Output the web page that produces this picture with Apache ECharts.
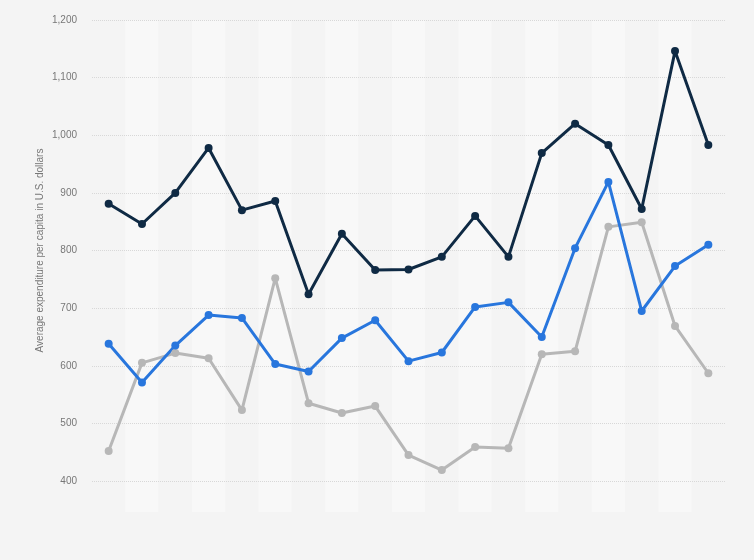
<!DOCTYPE html>
<html>
<head>
<meta charset="utf-8">
<script src="https://cdn.jsdelivr.net/npm/echarts@6/dist/echarts.min.js"></script>
<style>
  html, body { margin: 0; padding: 0; background: #f4f4f4; }
  #chart { width: 754px; height: 560px; }
</style>
</head>
<body>
<div id="chart"></div>
<script>
const categories = ['1', '2', '3', '4', '5', '6', '7', '8', '9', '10', '11', '12', '13', '14', '15', '16', '17', '18', '19'];
const darkSeries = [881, 846, 900, 978, 870, 886, 724, 829, 766, 767, 789, 860, 789, 969, 1020, 983, 872, 1146, 983];
const blueSeries = [638, 571, 635, 688, 683, 603, 590, 648, 679, 608, 623, 702, 710, 650, 804, 919, 695, 773, 810];
const graySeries = [452, 605, 622, 613, 523, 752, 535, 518, 530, 445, 419, 459, 457, 620, 625, 841, 849, 669, 587];
const yTicks = { min: 400, max: 1200, interval: 100 };

(() => {
  const chart = echarts.init(document.getElementById('chart'), null, { renderer: 'canvas' });
  const line = (name, data, color) => ({
    name,
    type: 'line',
    xAxisIndex: 1,
    yAxisIndex: 1,
    data,
    symbol: 'circle',
    symbolSize: 8,
    showSymbol: true,
    lineStyle: { width: 3, color },
    itemStyle: { color },
    z: 5,
  });
  const font = 'Liberation Sans, Arial, sans-serif';

  chart.setOption({
    animation: false,
    backgroundColor: '#f4f4f4',
    grid: [
      // background bands reach below the lowest tick
      { left: 92, right: 29, top: 20, bottom: 48 },
      { left: 92, right: 29, top: 20, bottom: 79 },
    ],
    xAxis: [
      {
        type: 'category', gridIndex: 0, data: categories, boundaryGap: true, z: 0,
        axisLine: { show: false }, axisTick: { show: false }, axisLabel: { show: false },
        splitArea: { show: true, areaStyle: { color: ['#f4f4f4', '#f8f8f8'] } },
      },
      {
        type: 'category', gridIndex: 1, data: categories, boundaryGap: true,
        axisLine: { show: false }, axisTick: { show: false }, axisLabel: { show: false },
      },
    ],
    yAxis: [
      {
        type: 'value', gridIndex: 0, min: 0, max: 1, show: false, z: 0,
        splitLine: { show: false },
      },
      {
        type: 'value', gridIndex: 1, min: yTicks.min, max: yTicks.max, interval: yTicks.interval, z: 3,
        name: 'Average expenditure per capita in U.S. dollars',
        nameLocation: 'middle', nameGap: 47, nameMoveOverlap: false,
        nameTextStyle: { color: '#777', fontSize: 10, fontFamily: font },
        axisLine: { show: false }, axisTick: { show: false },
        axisLabel: {
          color: '#777', fontSize: 10, margin: 15, fontFamily: font,
          formatter: (v) => v.toLocaleString('en-US'),
        },
        splitLine: { lineStyle: { color: '#d8d8d8', type: 'dotted', width: 1 } },
      },
    ],
    series: [
      line('Series 3', graySeries, '#b7b7b7'),
      line('Series 2', blueSeries, '#2876dd'),
      line('Series 1', darkSeries, '#0f2a44'),
    ],
  });
})();
</script>
</body>
</html>
